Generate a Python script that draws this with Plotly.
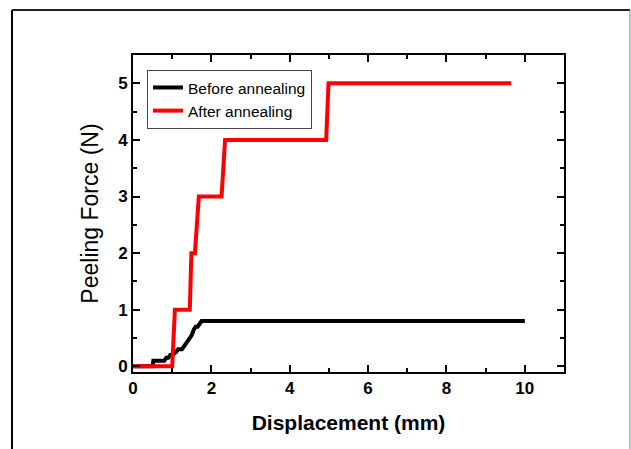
import plotly.graph_objects as go

# Before annealing (black)
before_x = [0, 0.5, 0.52, 0.8, 0.85, 0.9, 0.95, 1.0, 1.1, 1.15, 1.25, 1.3, 1.4, 1.45, 1.5, 1.55, 1.6, 1.65, 1.7, 1.75, 10.0]
before_y = [0, 0, 0.1, 0.1, 0.15, 0.15, 0.2, 0.2, 0.25, 0.3, 0.3, 0.35, 0.45, 0.5, 0.55, 0.65, 0.7, 0.7, 0.75, 0.8, 0.8]

# After annealing (red)
after_x = [0, 1.0, 1.07, 1.45, 1.49, 1.58, 1.68, 2.26, 2.35, 4.93, 4.99, 9.65]
after_y = [0, 0, 1, 1, 2, 2, 3, 3, 4, 4, 5, 5]

x_ticks = [0, 2, 4, 6, 8, 10]
y_ticks = [0, 1, 2, 3, 4, 5]

FONT = "Liberation Sans, Arial, sans-serif"

fig = go.Figure()
fig.add_trace(go.Scatter(x=before_x, y=before_y, mode="lines", name="Before annealing",
                         line=dict(color="black", width=4)))
fig.add_trace(go.Scatter(x=after_x, y=after_y, mode="lines", name="After annealing",
                         line=dict(color="#ff0000", width=4)))

axis_common = dict(
    showline=True, linecolor="black", linewidth=2, mirror="ticks",
    ticks="inside", ticklen=7, tickwidth=2, tickcolor="black",
    showgrid=False, zeroline=False,
    tickfont=dict(family=FONT, size=17, color="black", weight="bold"),
)

fig.update_xaxes(
    range=[0, 11], tickvals=x_ticks, ticktext=[str(v) for v in x_ticks],
    minor=dict(ticks="inside", ticklen=4, tickwidth=2, tickcolor="black", dtick=1, showgrid=False),
    title=dict(text="Displacement (mm)", font=dict(family=FONT, size=21, color="black", weight="bold"), standoff=18),
    **axis_common,
)
fig.update_yaxes(
    range=[-0.1, 5.5], tickvals=y_ticks, ticktext=[str(v) for v in y_ticks],
    minor=dict(ticks="inside", ticklen=4, tickwidth=2, tickcolor="black", dtick=0.5, tick0=0, showgrid=False),
    title=dict(text="Peeling Force (N)", font=dict(family=FONT, size=23, color="black"), standoff=13),
    **axis_common,
)

# outer frame (paper coords relative to plot area)
frame = [
    dict(x0=-0.2807, x1=-0.2807, y0=1.142, y1=-0.4, color="black", w=2),
    dict(x0=-0.2807, x1=1.1531, y0=1.142, y1=1.142, color="#222222", w=2),
    dict(x0=1.1531, x1=1.1531, y0=1.142, y1=-0.4, color="#888888", w=1),
]
for f in frame:
    fig.add_shape(type="line", xref="paper", yref="paper", x0=f["x0"], x1=f["x1"],
                  y0=f["y0"], y1=f["y1"], line=dict(color=f["color"], width=f["w"]))

fig.update_layout(
    width=631, height=449,
    margin=dict(l=133, r=67, t=55, b=77),
    paper_bgcolor="white", plot_bgcolor="white",
    font=dict(family=FONT, color="black"),
    legend=dict(x=0.0325, y=0.953, xanchor="left", yanchor="top",
                bgcolor="white", bordercolor="#444444", borderwidth=1,
                font=dict(family=FONT, size=15.5, color="black"),
                tracegroupgap=0, itemwidth=30),
    showlegend=True,
)

fig.write_html("out.html")
